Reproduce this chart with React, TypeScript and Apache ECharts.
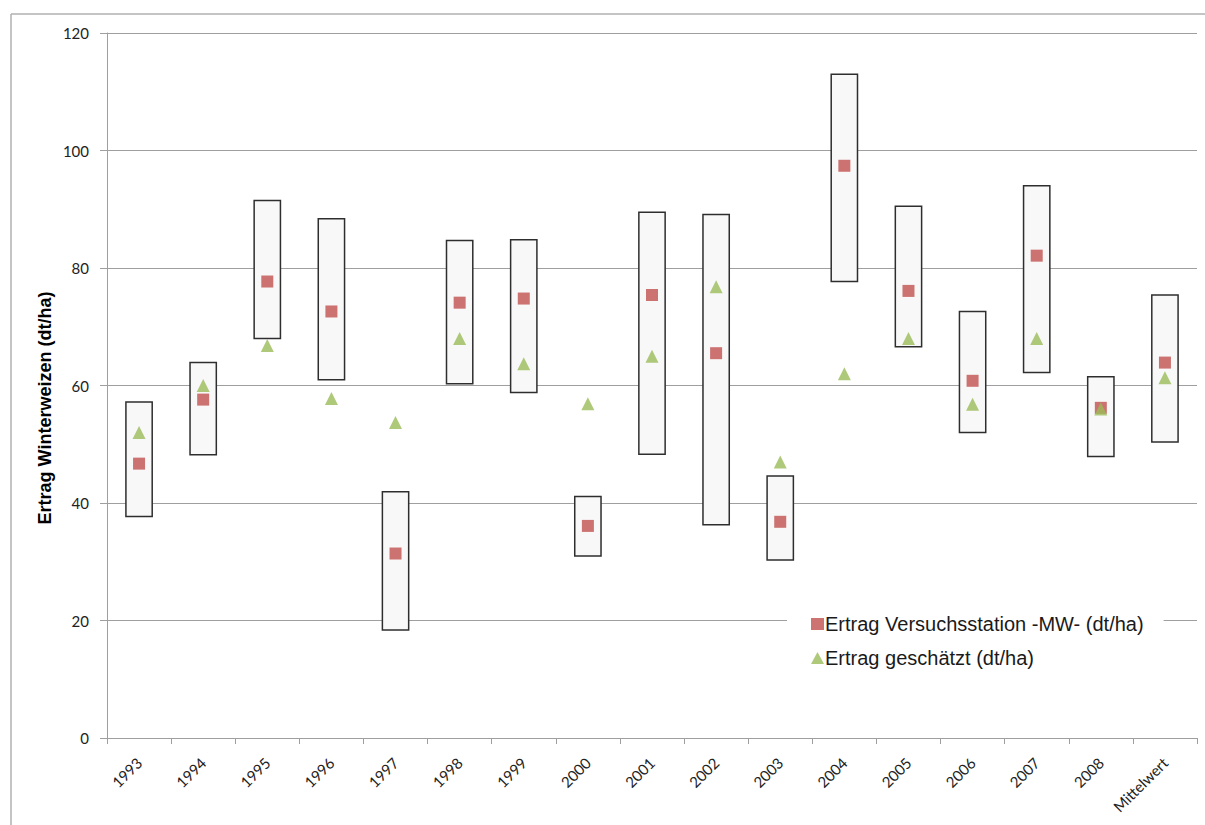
import React, { useEffect, useRef } from "react";
import * as echarts from "echarts";

const categories = ["1993", "1994", "1995", "1996", "1997", "1998", "1999", "2000", "2001", "2002", "2003", "2004", "2005", "2006", "2007", "2008", "Mittelwert"];
const rangeMin = [37.7, 48.2, 68.0, 61.0, 18.4, 60.3, 58.8, 31.0, 48.3, 36.3, 30.3, 77.7, 66.6, 52.0, 62.2, 47.9, 50.4];
const rangeMax = [57.2, 63.9, 91.5, 88.4, 41.9, 84.7, 84.8, 41.1, 89.5, 89.1, 44.6, 113.0, 90.5, 72.6, 94.0, 61.5, 75.4];
const stationMean = [46.7, 57.6, 77.7, 72.6, 31.4, 74.1, 74.8, 36.1, 75.4, 65.5, 36.8, 97.4, 76.1, 60.8, 82.1, 56.2, 63.9];
const estimated = [52.0, 60.0, 66.8, 57.8, 53.7, 68.0, 63.7, 56.9, 65.0, 76.8, 47.0, 62.0, 68.0, 56.8, 68.0, 56.0, 61.3];

const stationName = "Ertrag Versuchsstation -MW- (dt/ha)";
const estimatedName = "Ertrag geschätzt (dt/ha)";
const yTitle = "Ertrag Winterweizen (dt/ha)";

export default function App() {
  const ref = useRef<HTMLDivElement>(null);
  useEffect(() => {
    document.body.style.margin = "0";
    if (!ref.current) return;
    const chart = echarts.init(ref.current, null, { renderer: "svg" });
    const gridColor = "#9f9f9f";
    chart.setOption({
      animation: false,
      backgroundColor: "#ffffff",
      grid: { left: 107, right: 8, top: 33, bottom: 87, containLabel: false },
      legend: {
        data: [
          { name: stationName, icon: "rect" },
          { name: estimatedName, icon: "triangle" },
        ],
        orient: "vertical",
        left: 787,
        top: 606,
        itemWidth: 13,
        itemHeight: 12,
        itemGap: 14,
        padding: [8, 20, 8, 24],
        backgroundColor: "#ffffff",
        textStyle: { fontFamily: "Liberation Sans", fontSize: 20, color: "#1a1a1a", padding: [0, 0, 0, -4] },
      },
      xAxis: {
        type: "category",
        data: categories,
        boundaryGap: true,
        axisLine: { lineStyle: { color: gridColor, width: 1 } },
        axisTick: { show: true, alignWithLabel: false, length: 6, lineStyle: { color: gridColor } },
        axisLabel: { rotate: 45, fontSize: 15, color: "#222222", fontFamily: "Lato", margin: 22, interval: 0 },
        splitLine: { show: false },
      },
      yAxis: {
        type: "value",
        min: 0,
        max: 120,
        interval: 20,
        axisLine: { show: true, lineStyle: { color: gridColor, width: 1 } },
        axisTick: { show: true, length: 7, lineStyle: { color: gridColor } },
        axisLabel: { fontSize: 15, color: "#222222", fontFamily: "Lato", margin: 18 },
        splitLine: { show: true, lineStyle: { color: gridColor, width: 1 } },
      },
      graphic: [
        { type: "line", shape: { x1: 11, y1: 14, x2: 1205, y2: 14 }, style: { stroke: "#b0b0b0", lineWidth: 1.5 } },
        { type: "line", shape: { x1: 11, y1: 14, x2: 11, y2: 825 }, style: { stroke: "#b0b0b0", lineWidth: 1.5 } },
        {
          type: "text",
          x: 45,
          y: 408,
          rotation: Math.PI / 2,
          style: {
            text: yTitle,
            fontFamily: "Liberation Sans",
            fontWeight: "bold",
            fontSize: 18,
            fill: "#000000",
            textAlign: "center",
            textVerticalAlign: "middle",
          },
        },
      ],
      series: [
        {
          type: "custom",
          name: "range",
          data: categories.map((c, i) => [i, rangeMin[i], rangeMax[i]]),
          encode: { x: 0, y: [1, 2] },
          z: 2,
          renderItem: (params: any, api: any) => {
            const xi = api.value(0);
            const lo = api.coord([xi, api.value(1)]);
            const hi = api.coord([xi, api.value(2)]);
            const w = api.size([1, 0])[0] * 0.41;
            return {
              type: "rect",
              shape: { x: lo[0] - w / 2, y: hi[1], width: w, height: lo[1] - hi[1] },
              style: { fill: "#f8f8f8", stroke: "#2e2e2e", lineWidth: 1.5 },
            };
          },
        },
        {
          type: "scatter",
          name: stationName,
          data: stationMean,
          symbol: "rect",
          symbolSize: 12,
          itemStyle: { color: "#c0504d" },
          z: 4,
        },
        {
          type: "scatter",
          name: estimatedName,
          data: estimated,
          symbol: "triangle",
          symbolSize: [13, 13],
          itemStyle: { color: "#9bbb59" },
          z: 5,
        },
      ],
    });
    return () => chart.dispose();
  }, []);
  return <div ref={ref} style={{ width: 1205, height: 825 }} />;
}
